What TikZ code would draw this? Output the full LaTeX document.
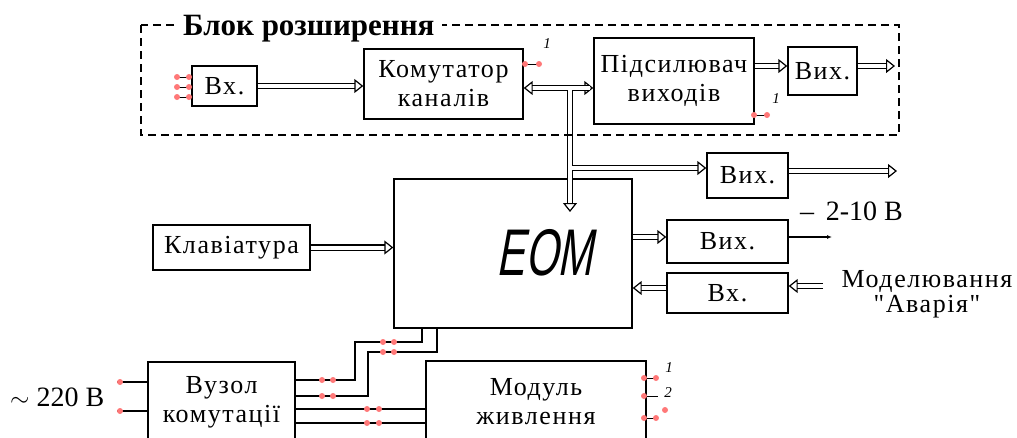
\documentclass[tikz,border=0pt]{standalone}
\usepackage{fontspec}
\usepackage{graphicx}
\setmainfont{Liberation Serif}
\newfontfamily\boxfont[LetterSpace=6]{Liberation Serif}
\newfontfamily\eomfont[FakeSlant=0.28]{Liberation Sans}
\usetikzlibrary{arrows.meta,calc}

\definecolor{pinred}{RGB}{255,120,120}

\begin{document}
\begin{tikzpicture}[
  x=1pt, y=-1pt,
  box/.style={draw, line width=1.4pt, inner sep=0pt, align=center, font=\boxfont\fontsize{26}{29}\selectfont},
  bus/.style={double, double distance=4pt, line width=1.2pt, >={Triangle[open,length=9pt,width=14pt]}},
  wire/.style={line width=1.3pt},
  stub/.style={line width=1pt},
  num/.style={inner sep=0pt, font=\itshape\fontsize{15}{15}\selectfont},
  lbl/.style={inner sep=0pt, font=\fontsize{28}{28}\selectfont},
]
  \clip (0,0) rectangle (1017,437);

  % boxes
  \node[box, minimum width=65pt, minimum height=40pt] (vxA) at (224.5,86) {Вх.};
  \node[box, minimum width=159pt, minimum height=70pt] (kom) at (443.5,84) {Комутатор\\каналів};
  \node[box, minimum width=160pt, minimum height=86pt] (pids) at (674,81) {Підсилювач\\виходів};
  \node[box, minimum width=69pt, minimum height=48pt] (vyxA) at (822.5,71) {Вих.};
  \node[box, minimum width=81pt, minimum height=45pt] (vyxB) at (747.5,175.5) {Вих.};
  \node[box, minimum width=238pt, minimum height=149pt] (eom) at (513,253.5) {};
  \node[inner sep=0pt, font=\eomfont\fontsize{66}{66}\selectfont] (eomtxt) at (545,253) {\scalebox{0.64}[1]{ЕОМ}};
  \node[box, minimum width=157pt, minimum height=45pt] (klav) at (231.5,247.5) {Клавіатура};
  \node[box, minimum width=121pt, minimum height=43pt] (vyxC) at (727.5,241.5) {Вих.};
  \node[box, minimum width=121pt, minimum height=40pt] (vxB) at (727.5,293) {Вх.};
  \node[box, minimum width=147pt, minimum height=80pt] (vuzol) at (221.5,402) {Вузол\\комутації};
  \node[box, minimum width=220pt, minimum height=81pt] (modul) at (536,401.5) {Модуль\\живлення};

  % bus
  \coordinate (bus) at (570,88);
  \coordinate (busT) at (570,168);
  \coordinate (busdn) at (570,212);
  \draw[bus, <->] (kom.east |- bus) -- (pids.west |- bus);
  \draw[bus, ->] (bus) -- (busdn);
  \draw[bus, ->] (busT) -- (vyxB.west |- busT);
  \draw[bus] ($(bus)+(-20,0)$) -- ($(bus)+(20,0)$) (bus) -- ($(busT)+(0,20)$) (busT) -- ($(busT)+(25,0)$);

  % double arrows
  \coordinate (outA) at (895,66);
  \coordinate (outB) at (897,171);
  \coordinate (avIn) at (823,286);
  \draw[bus, ->] (vxA.east) -- (vxA.east -| kom.west);
  \draw[bus, ->] (pids.east |- outA) -- (vyxA.west |- outA);
  \draw[bus, ->] (vyxA.east |- outA) -- (outA);
  \draw[bus, ->] (vyxB.east |- outB) -- (outB);
  \draw[bus, ->] (klav.east) -- (klav.east -| eom.west);
  \draw[bus, ->] (eom.east |- 0,237) -- (vyxC.west |- 0,237);
  \draw[bus, ->] (vxB.west |- 0,288) -- (eom.east |- 0,288);
  \draw[bus, ->] (avIn) -- (vxB.east |- avIn);
  \coordinate (outC) at (832,237);
  \draw[wire, -{Latex[length=5pt,width=4pt]}] (vyxC.east |- outC) -- (outC);

  % power wires
  \draw[wire] (vuzol.east |- 0,380) -| (355,342) -| (eom.south -| 422,0);
  \draw[wire] (vuzol.east |- 0,396) -| (368,352) -| (eom.south -| 437,0);
  \draw[wire] (vuzol.east |- 0,409) -- (modul.west |- 0,409);
  \draw[wire] (vuzol.east |- 0,423) -- (modul.west |- 0,423);
  \draw[wire] (117,382) -- (vuzol.west |- 0,382);
  \draw[wire] (117,411) -- (vuzol.west |- 0,411);

  % expansion block frame
  \draw[line width=1.3pt, dash pattern=on 8pt off 5pt] (141,25) rectangle (899,135);
  \node[fill=white, inner xsep=7pt, inner ysep=0pt, anchor=base west,
        font=\bfseries\fontsize{31}{31}\selectfont] (title) at (176,35) {Блок розширення};

  % labels
  \node[lbl, anchor=west] (volt) at (800,211) {–\, 2-10 В};
  \node[lbl, anchor=west] (mains) at (10,397) {$\sim$ 220 В};
  \node[inner sep=0pt, align=center, font=\boxfont\fontsize{26}{25}\selectfont] (avar) at (927,294) {Моделювання\\"Аварія"};

  % pins
  \foreach \y in {77,87,97} \draw[stub] (176,\y) -- (vxA.west |- 0,\y);
  \draw[stub] (kom.east |- 0,64) -- (540,64);
  \draw[stub] (pids.east |- 0,115) -- (768,115);
  \foreach \y in {378,396,418} \draw[stub] (modul.east |- 0,\y) -- (658,\y);
  \foreach \p in {(177,77),(189,77),(177,87),(189,87),(177,97),(189,97),
                  (525,64),(539,64),(754,115),(767,115),
                  (322,380),(333,380),(322,396),(333,396),
                  (383,342),(394,342),(383,352),(394,352),
                  (367,409),(379,409),(367,423),(379,423),
                  (120,382),(120,411),
                  (644,378),(656,378),(644,396),(644,418),(656,418),(665,410)}
    \fill[pinred] \p circle (3pt);
  \node[num] (k1) at (547,44) {1};
  \node[num] (p1) at (776,99) {1};
  \node[num] (m1) at (669,368) {1};
  \node[num] (m2) at (668,393) {2};
\end{tikzpicture}
\end{document}
